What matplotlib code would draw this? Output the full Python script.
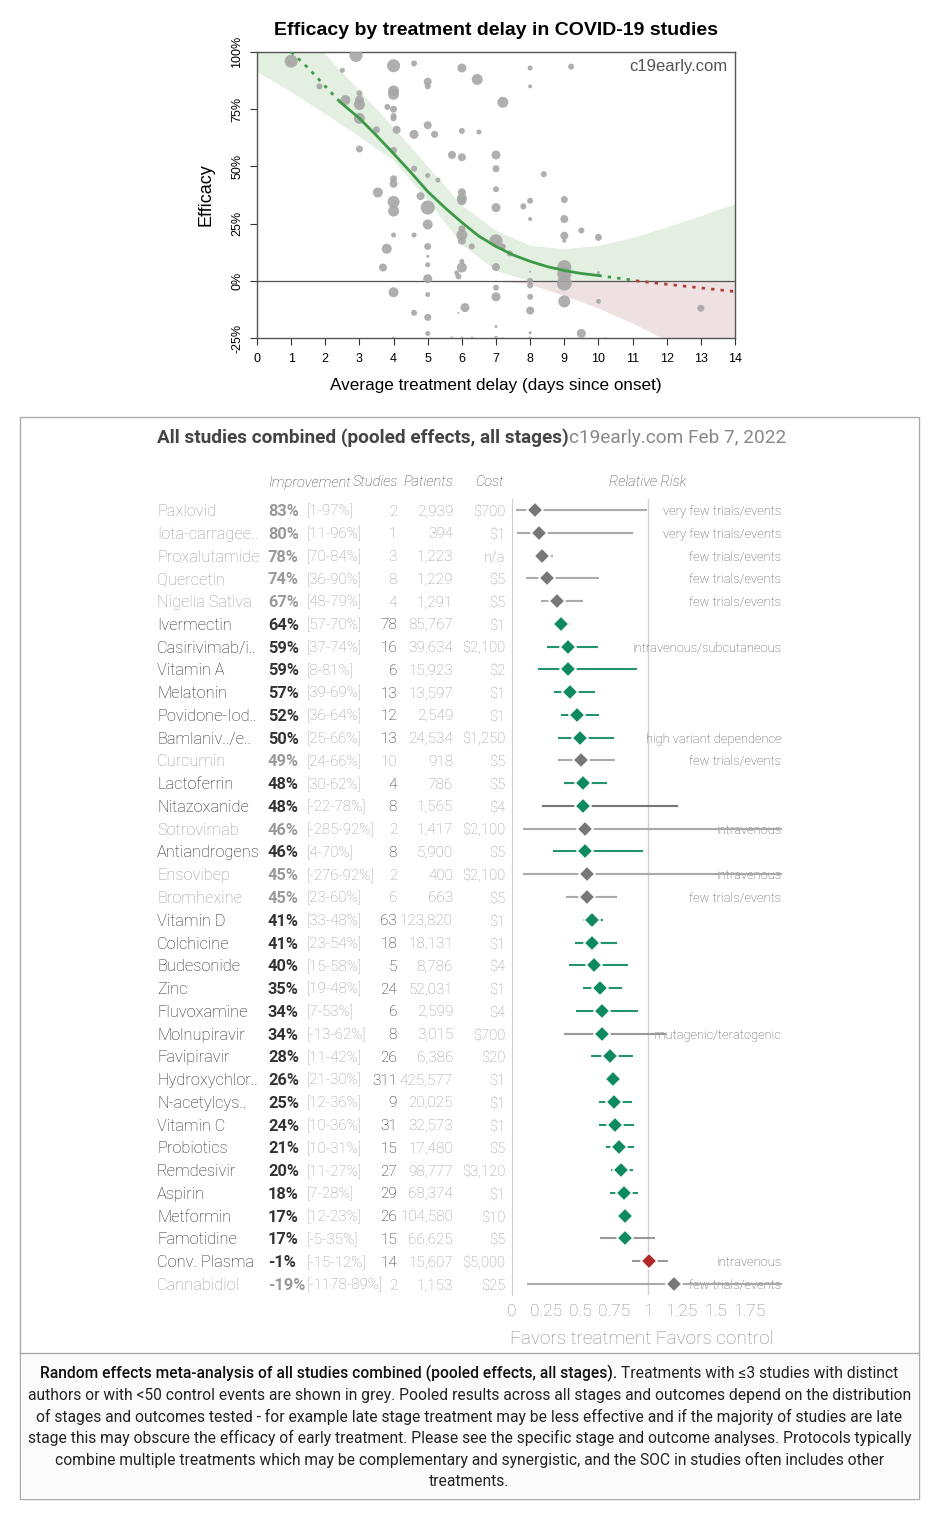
import numpy as np
import matplotlib
matplotlib.use('Agg')
import matplotlib.pyplot as plt

# ---------------- top chart data ----------------
# (delay in days, efficacy %, marker radius in px)
pts = [
    (1.0, 96, 6.5), (1.83, 85, 3), (2.5, 92, 2.5), (2.59, 79, 5), (2.9, 98.5, 6.5),
    (3.0, 82, 3), (3.0, 79, 4.5), (3.0, 77, 5.5), (3.0, 71, 5.5), (3.0, 57.6, 3.5),
    (3.5, 66, 3.5), (3.54, 38.6, 5), (3.69, 5.8, 4), (3.8, 14, 5), (3.82, 76, 3),
    (4.0, 94, 6.5), (4.0, 83, 5.5), (4.0, 81.5, 5.5), (4.0, 75, 3.5), (4.0, 72, 3),
    (4.0, 71, 3), (4.0, 57, 3.5), (4.0, 44.6, 3.5), (4.0, 42.4, 4), (4.0, 34.5, 6),
    (4.0, 30.5, 5.5), (4.0, 20, 2.5), (4.0, -5, 5), (4.09, 66, 4), (4.6, 95, 3),
    (4.6, 64, 4.5), (4.6, 49, 3), (4.6, 20, 2.5), (4.6, -14, 3), (4.79, 37, 4),
    (5.0, 87, 4), (5.0, 85, 3), (5.0, 68, 4), (5.0, 46, 2.5), (5.0, 32, 7),
    (5.0, 24.6, 5), (5.0, 15, 3.5), (5.0, 10.7, 1.5), (5.0, 7, 2.5), (5.0, 0.9, 4.5),
    (5.0, -6, 2.5), (5.0, -16, 3.5), (5.0, -23, 2.5), (5.2, 64, 3.5), (5.3, 44, 2.5),
    (5.71, 55, 4), (5.85, 3.5, 2.5), (5.9, 1.9, 3), (6.0, 93, 4.5), (6.0, 65.5, 3),
    (6.0, 54, 4), (6.0, 38.7, 4), (6.0, 36, 5), (6.0, 35, 4.5), (6.0, 22.7, 3.5),
    (6.0, 20, 5.5), (6.0, 17.5, 4), (6.0, 8.5, 2.5), (6.0, 5.8, 5), (6.09, -11.7, 4.5),
    (5.9, -14, 1), (6.29, 15, 3), (6.45, 88, 5.5), (6.5, 65, 2.5), (7.0, 55, 4.5),
    (7.0, 49, 3.5), (7.0, 40, 3), (7.0, 32, 4.5), (7.0, 17.5, 6.5), (7.0, 6, 4),
    (7.0, -3, 3), (7.0, -7, 4.5), (7.0, -20, 1.5), (7.2, 78, 5.5), (7.2, 15, 3),
    (7.4, 12, 3), (7.8, 32.5, 3), (8.0, 93, 2.5), (8.0, 85, 2), (8.0, 35, 3),
    (8.0, 27, 2), (8.0, 4, 1), (8.0, 0, 3), (8.0, -2, 3), (8.0, -7, 3),
    (8.0, -13, 4), (8.0, -22.7, 1.5), (8.4, 46.6, 3), (9.0, 35.5, 3.5), (9.0, 27, 4),
    (9.0, 19.7, 4), (9.0, 17.5, 2), (9.0, 6, 7), (9.0, 3, 7), (9.0, -1, 7.5),
    (9.0, -9, 6), (9.2, 93.6, 3), (9.5, 22, 3), (9.5, -23, 4.5), (10.0, 19, 3.5),
    (10.0, 3.6, 1.5), (10.0, -9, 2.5), (13.0, -12, 3.5),
    (4.0, -25, 1.5), (5.7, -25, 1.5), (6.0, -25, 1.5), (6.3, -25, 1.5), (7.0, -25, 2),
    (7.2, -25, 1), (8.0, -25, 1.5), (10.2, -25, 1),
]
delay = [p[0] for p in pts]
efficacy = [p[1] for p in pts]
radius = [p[2] for p in pts]

fit_x = [1, 1.5, 2, 2.43, 3, 3.5, 4, 4.5, 5, 5.5, 6, 6.5, 7, 7.5, 8, 8.5, 9, 9.5, 10,
         10.5, 11, 11.1, 12, 13, 14]
fit_y = [100, 93, 85, 78.2, 71, 63.5, 55.6, 47.5, 39, 32, 25.5, 19.5, 15, 11.3, 8.5,
         6.2, 4.5, 3.2, 2.3, 1.3, 0.3, 0, -1.5, -3.1, -4.7]
band_x = list(range(15))
band_hi = [125, 112, 99, 83, 67, 50, 33, 22, 15.5, 14, 15.5, 19, 23.5, 28.5, 33.7]
band_lo = [91.4, 82.6, 73, 63, 52.7, 35, 16, 4.5, -1.5, -6.4, -12, -18.5, -26, -33, -40]

# ---------------- table data ----------------
names = ["Paxlovid", "Iota-carragee..", "Proxalutamide", "Quercetin", "Nigella Sativa",
         "Ivermectin", "Casirivimab/i..", "Vitamin A", "Melatonin", "Povidone-Iod..",
         "Bamlaniv../e..", "Curcumin", "Lactoferrin", "Nitazoxanide", "Sotrovimab",
         "Antiandrogens", "Ensovibep", "Bromhexine", "Vitamin D", "Colchicine",
         "Budesonide", "Zinc", "Fluvoxamine", "Molnupiravir", "Favipiravir",
         "Hydroxychlor..", "N-acetylcys..", "Vitamin C", "Probiotics", "Remdesivir",
         "Aspirin", "Metformin", "Famotidine", "Conv. Plasma", "Cannabidiol"]
improvement = [83, 80, 78, 74, 67, 64, 59, 59, 57, 52, 50, 49, 48, 48, 46, 46, 45, 45,
               41, 41, 40, 35, 34, 34, 28, 26, 25, 24, 21, 20, 18, 17, 17, -1, -19]
ci_lo = [1, 11, 70, 36, 48, 57, 37, 8, 39, 36, 25, 24, 30, -22, -285, 4, -276, 23, 33,
         23, 15, 19, 7, -13, 11, 21, 12, 10, 10, 11, 7, 12, -5, -15, -1178]
ci_hi = [97, 96, 84, 90, 79, 70, 74, 81, 69, 64, 66, 66, 62, 78, 92, 70, 92, 60, 48, 54,
         58, 48, 53, 62, 42, 30, 36, 36, 31, 27, 28, 23, 35, 12, 89]
studies = [2, 1, 3, 8, 4, 78, 16, 6, 13, 12, 13, 10, 4, 8, 2, 8, 2, 6, 63, 18, 5, 24, 6,
           8, 26, 311, 9, 31, 15, 27, 29, 26, 15, 14, 2]
patients = [2939, 394, 1223, 1229, 1291, 85767, 39634, 15923, 13597, 2549, 24534, 918,
            786, 1565, 1417, 5900, 400, 663, 123820, 18131, 8786, 52031, 2599, 3015,
            6386, 425577, 20025, 32573, 17480, 98777, 68374, 104580, 66625, 15607, 1153]
cost = ["$700", "$1", "n/a", "$5", "$5", "$1", "$2,100", "$2", "$1", "$1", "$1,250",
        "$5", "$5", "$4", "$2,100", "$5", "$2,100", "$5", "$1", "$1", "$4", "$1", "$4",
        "$700", "$20", "$1", "$1", "$1", "$5", "$3,120", "$1", "$10", "$5", "$5,000",
        "$25"]
notes = {0: "very few trials/events", 1: "very few trials/events", 2: "few trials/events",
         3: "few trials/events", 4: "few trials/events", 6: "intravenous/subcutaneous",
         10: "high variant dependence", 11: "few trials/events", 14: "intravenous",
         16: "intravenous", 17: "few trials/events", 23: "mutagenic/teratogenic",
         33: "intravenous", 34: "few trials/events"}
grey_rows = {0, 1, 2, 3, 4, 11, 14, 16, 17, 34}
neutral_lines = {13: "#777777", 23: "#999999", 32: "#999999", 33: "#999999"}

rr = [1 - v / 100 for v in improvement]
rr_lo = [1 - v / 100 for v in ci_hi]
rr_hi = [1 - v / 100 for v in ci_lo]

# ---------------- figure ----------------
W, H = 944, 1526
fig = plt.figure(figsize=(W / 100, H / 100), dpi=100)
plt.rcParams['font.family'] = ['Roboto', 'DejaVu Sans']


def fbox(x0, y0, x1, y1):
    return [x0 / W, 1 - y1 / H, (x1 - x0) / W, (y1 - y0) / H]


# ===== top chart =====
ax = fig.add_axes(fbox(257, 52, 735, 338))
arial = ['Liberation Sans', 'DejaVu Sans']
bx = np.array(band_x, float)
hi = np.array(band_hi)
lo = np.array(band_lo)
ax.fill_between(bx, np.clip(lo, 0, None), np.clip(hi, 0, None), color='#e3efe1', lw=0, zorder=1)
ax.fill_between(bx, np.clip(lo, None, 0), np.clip(hi, None, 0), color='#efe1e2', lw=0, zorder=1)
ax.axhline(0, color='#555555', lw=0.9, zorder=2)
ax.scatter(delay, efficacy, s=[(1.44 * r) ** 2 for r in radius], color='#a6a6a6',
           alpha=0.9, lw=0, zorder=3)
fx = np.array(fit_x)
fy = np.array(fit_y)
i0 = fit_x.index(2.43)
i1 = fit_x.index(10)
i2 = fit_x.index(11.1)
ax.plot(fx[:i0 + 1], fy[:i0 + 1], color='#3c9a47', lw=2, ls=(0, (1.2, 2.2)), zorder=4)
ax.plot(fx[i0:i1 + 1], fy[i0:i1 + 1], color='#3c9a47', lw=2, zorder=4)
ax.plot(fx[i1:i2 + 1], fy[i1:i2 + 1], color='#3c9a47', lw=2, ls=(0, (1.2, 2.2)), zorder=4)
ax.plot(fx[i2:], fy[i2:], color='#b03b3b', lw=2, ls=(0, (1.2, 2.2)), zorder=4)
ax.set_xlim(0, 14)
ax.set_ylim(-25, 100)
ax.set_xticks(range(15))
ax.set_yticks([-25, 0, 25, 50, 75, 100])
ax.set_yticklabels(['-25%', '0%', '25%', '50%', '75%', '100%'], rotation=90, va='center',
                   family=arial, fontsize=9)
ax.set_xticklabels([str(i) for i in range(15)], family=arial, fontsize=9)
ax.tick_params(length=5, color='#333333', width=0.8)
ax.tick_params(axis='x', pad=6)
ax.tick_params(axis='y', pad=5)
for s in ax.spines.values():
    s.set_color('#555555')
    s.set_linewidth(1)
ax.set_xlabel('Average treatment delay (days since onset)', family=arial, fontsize=12.3,
              labelpad=9)
ax.set_ylabel('Efficacy', family=arial, fontsize=13, labelpad=12)
ax.set_title('Efficacy by treatment delay in COVID-19 studies', family=arial,
             fontweight='bold', fontsize=14, pad=12)
ax.text(0.985, 0.95, 'c19early.com', transform=ax.transAxes, ha='right', va='center',
        family=arial, fontsize=12, color='#555555')

# ===== overlay for table text =====
ov = fig.add_axes([0, 0, 1, 1])
ov.set_xlim(0, W)
ov.set_ylim(H, 0)
ov.axis('off')
ov.add_patch(plt.Rectangle((20, 417), 899, 1082, fill=False, ec='#aaaaaa', lw=1))
ov.add_patch(plt.Rectangle((20.5, 1353), 898, 145.5, fc='#fbfbfb', ec='none'))
ov.plot([20, 919], [1353, 1353], color='#aaaaaa', lw=1)

t_a = ov.text(157, 436, 'All studies combined (pooled effects, all stages)', fontsize=13.7,
              fontweight='bold', color='#444444', va='center_baseline')
t_b = ov.text(0, 436, 'c19early.com Feb 7, 2022', fontsize=13.7, color='#888888',
              va='center_baseline')

hdr = dict(fontsize=10.5, style='italic', color='#444444', fontweight='light',
           va='center_baseline')
ov.text(268, 481, 'Improvement', ha='left', **hdr)
ov.text(398, 481, 'Studies', ha='right', **hdr)
ov.text(453, 481, 'Patients', ha='right', **hdr)
ov.text(504, 481, 'Cost', ha='right', **hdr)
ov.text(648, 481, 'Relative Risk', ha='center', **hdr)

row0, step = 510, (1284 - 510) / 34
for i, nm in enumerate(names):
    y = row0 + i * step
    g = i in grey_rows
    base = dict(va='center_baseline', fontweight='light')
    ov.text(157, y, nm, color='#999999' if g else '#222222', fontsize=11.8, **base)
    ov.text(268, y, f'{improvement[i]}%', color='#999999' if g else '#333333',
            fontsize=11.8, va='center_baseline', fontweight='bold')
    ov.text(307, y, f'[{ci_lo[i]}-{ci_hi[i]}%]', color='#999999', fontsize=10.8, **base)
    ov.text(397, y, str(studies[i]), ha='right', color='#999999' if g else '#222222',
            fontsize=11, **base)
    ov.text(453, y, f'{patients[i]:,}', ha='right', color='#999999', fontsize=11, **base)
    ov.text(505, y, cost[i], ha='right', color='#999999', fontsize=10.6, **base)

ov.text(510, 1337, 'Favors treatment Favors control', fontsize=13.6, color='#888888',
        fontweight='light', va='center_baseline')

# ===== forest plot =====
fa = fig.add_axes(fbox(512, 510 - 0.5 * step, 782, 1284 + 0.5 * step))
fa.patch.set_alpha(0)
fa.set_xlim(0, 1.985)
fa.set_ylim(len(names) - 0.5, -0.5)
for s in ['top', 'right', 'bottom']:
    fa.spines[s].set_visible(False)
fa.spines['left'].set_color('#cccccc')
fa.axvline(1, color='#d0d0d0', lw=1, zorder=0)
fa.set_yticks([])
ticks = [0, 0.25, 0.5, 0.75, 1, 1.25, 1.5, 1.75]
fa.set_xticks(ticks)
fa.set_xticklabels(['0', '0.25', '0.5', '0.75', '1', '1.25', '1.5', '1.75'],
                   fontsize=12.5, color='#888888', fontweight='light')
fa.tick_params(axis='x', length=0, pad=6)
for i in range(len(names)):
    g = i in grey_rows
    if g:
        lc = '#aaaaaa'
    else:
        lc = neutral_lines.get(i, '#22956c')
    fa.plot([rr_lo[i], min(rr_hi[i], 1.985)], [i, i], color=lc, lw=1.5, zorder=3,
            solid_capstyle='butt', clip_on=False)
    if g:
        mc = '#777777'
    elif i == 33:
        mc = '#b02a2a'
    else:
        mc = '#0e8a60'
    fa.plot(rr[i], i, marker='D', ms=8, mfc=mc, mec='white', mew=1.2, zorder=4)
    if i in notes:
        fa.text(1.978, i, notes[i], ha='right', va='center_baseline', fontsize=9.3,
                color='#555555', fontweight='light', zorder=2)

# ===== caption =====
cap_bold = 'Random effects meta-analysis of all studies combined (pooled effects, all stages).'
cap_rest = ' Treatments with ≤3 studies with distinct'
cap_lines = [
    'authors or with <50 control events are shown in grey. Pooled results across all stages and outcomes depend on the distribution',
    'of stages and outcomes tested - for example late stage treatment may be less effective and if the majority of studies are late',
    'stage this may obscure the efficacy of early treatment. Please see the specific stage and outcome analyses. Protocols typically',
    'combine multiple treatments which may be complementary and synergistic, and the SOC in studies often includes other',
    'treatments.',
]
cx = (20 + 919) / 2
c1 = ov.text(0, 1372, cap_bold, fontsize=11.25, fontweight='medium', color='#111111',
             va='center_baseline')
c2 = ov.text(0, 1372, cap_rest, fontsize=11.25, color='#222222', va='center_baseline')
for k, ln in enumerate(cap_lines):
    ov.text(cx, 1372 + (k + 1) * 21.6, ln, fontsize=11.25, color='#222222', ha='center',
            va='center_baseline')

fig.canvas.draw()
r = fig.canvas.get_renderer()
wa = t_a.get_window_extent(r).width
t_b.set_x(157 + wa)
w1 = c1.get_window_extent(r).width
w2 = c2.get_window_extent(r).width
c1.set_x(cx - (w1 + w2) / 2)
c2.set_x(cx - (w1 + w2) / 2 + w1)

fig.savefig('out.png', dpi=100, facecolor='white')
